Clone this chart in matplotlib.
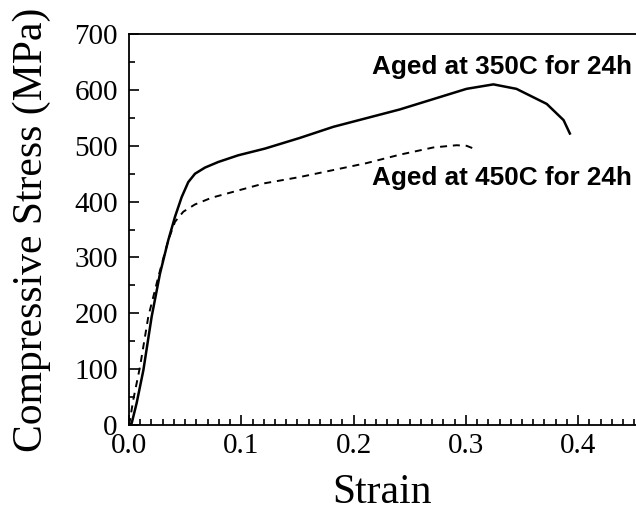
import numpy as np
import matplotlib.pyplot as plt
from matplotlib.ticker import MultipleLocator

# Aged at 350C for 24h (solid)
strain_350 = [0.0, 0.0024, 0.0068, 0.0128, 0.0202, 0.0276, 0.035, 0.041, 0.0469,
              0.0528, 0.0588, 0.0677, 0.0795, 0.0973, 0.1211, 0.152, 0.182,
              0.241, 0.3006, 0.3245, 0.345, 0.372, 0.387, 0.3926]
stress_350 = [0, 3, 39, 98, 194, 271, 331, 373, 408,
              435, 450, 461, 471, 483, 495, 514, 534,
              565, 602, 610, 602, 575, 546, 522]

# Aged at 450C for 24h (dashed)
strain_450 = [0.0, 0.0009, 0.0038, 0.0098, 0.0172, 0.0261, 0.035, 0.041, 0.0484,
              0.0588, 0.0736, 0.0973, 0.1211, 0.152, 0.2116, 0.241, 0.271,
              0.2917, 0.3006, 0.3095]
stress_450 = [0, 9, 45, 104, 194, 265, 331, 364, 382,
              395, 407, 420, 433, 444, 469, 484, 497,
              501, 500, 493]

plt.rcParams['font.family'] = ['Liberation Serif', 'DejaVu Serif']

fig = plt.figure(figsize=(6.36, 5.17), dpi=100)
ax = fig.add_axes([0.2028, 0.178, 0.7972, 0.756])

ax.plot(strain_350, stress_350, color='black', lw=1.8)
ax.plot(strain_450, stress_450, color='black', lw=1.4, dashes=(3.6, 3.0))

ax.set_xlim(0, 0.4515)
ax.set_ylim(0, 700)
ax.xaxis.set_major_locator(MultipleLocator(0.1))
ax.xaxis.set_minor_locator(MultipleLocator(0.01))
ax.yaxis.set_major_locator(MultipleLocator(100))
ax.yaxis.set_minor_locator(MultipleLocator(50))
ax.xaxis.set_major_formatter(plt.FuncFormatter(lambda v, p: f"{v:.1f}"))
ax.tick_params(which='both', direction='in', labelsize=21, width=1.2)
ax.tick_params(which='major', length=7, pad=6)
ax.tick_params(which='minor', length=4)
ax.tick_params(axis='y', pad=8)
ax.spines['right'].set_visible(False)
for s in ['left', 'bottom', 'top']:
    ax.spines[s].set_linewidth(1.3)

ax.set_xlabel('Strain', fontsize=30, labelpad=10)
ax.set_ylabel('Compressive Stress (MPa)', fontsize=30, labelpad=17)

ax.text(0.448, 642, 'Aged at 350C for 24h', ha='right', va='center',
        family='Liberation Sans', weight='bold', fontsize=18.8)
ax.text(0.448, 442, 'Aged at 450C for 24h', ha='right', va='center',
        family='Liberation Sans', weight='bold', fontsize=18.8)

fig.savefig('out.png', dpi=100)
